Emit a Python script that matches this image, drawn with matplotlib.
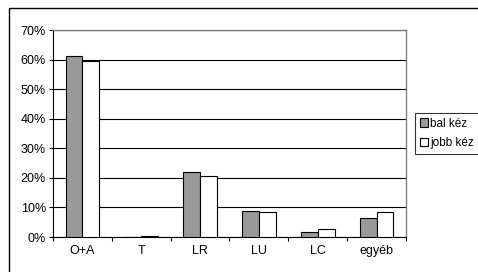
import matplotlib
matplotlib.use("Agg")
import matplotlib.pyplot as plt
from matplotlib.patches import Rectangle
import numpy as np

categories = ["O+A", "T", "LR", "LU", "LC", "egyéb"]
bal_kez = [61.3, 0.0, 21.9, 8.9, 1.6, 6.3]
jobb_kez = [59.4, 0.3, 20.6, 8.5, 2.8, 8.5]
series_names = ["bal kéz", "jobb kéz"]
yticks = [0, 10, 20, 30, 40, 50, 60, 70]

plt.rcParams['font.family'] = ['Liberation Sans', 'DejaVu Sans']
W, H = 478, 272
fig = plt.figure(figsize=(W/100, H/100), dpi=100)
fig.patch.set_facecolor('white')

left, top, right, bottom = 53, 30, 406, 237
ax = fig.add_axes([left/W, 1-bottom/H, (right-left)/W, (bottom-top)/H])

fs = 9
x = np.arange(len(categories))
w = 1/3.5
ax.bar(x - w/2, bal_kez, w, color='#999999', edgecolor='black', linewidth=0.8, label=series_names[0], zorder=3)
ax.bar(x + w/2, jobb_kez, w, color='white', edgecolor='black', linewidth=0.8, label=series_names[1], zorder=3)

ax.set_xlim(-0.5, len(categories)-0.5)
ax.set_ylim(0, 70)
ax.set_yticks(yticks)
ax.set_yticklabels([f"{v}%" for v in yticks], fontsize=fs)
ax.set_xticks(x)
ax.set_xticklabels(categories, fontsize=fs)
ax.tick_params(axis='x', length=0, pad=6)
ax.set_xticks(np.arange(len(categories)+1) - 0.5, minor=True)
ax.tick_params(axis='x', which='minor', length=3, width=0.8, direction='out')
ax.tick_params(axis='y', length=3, width=0.8, direction='out', pad=2)
ax.yaxis.grid(True, color='black', linewidth=0.8, zorder=0)
ax.set_axisbelow(True)
for s in ['top', 'right']:
    ax.spines[s].set_color('#808080')
    ax.spines[s].set_linewidth(1.0)
for s in ['left', 'bottom']:
    ax.spines[s].set_color('black')
    ax.spines[s].set_linewidth(0.8)

leg = fig.legend(loc='upper left', bbox_to_anchor=(415/W, 1-113/H), fontsize=8.5,
                 frameon=True, fancybox=False, edgecolor='black', borderpad=0.4,
                 handlelength=0.7, handleheight=0.7, handletextpad=0.2, labelspacing=0.65,
                 borderaxespad=0)
leg.get_frame().set_linewidth(0.8)

fig.patches.append(Rectangle((9/W, -0.1), 1.2, 1-8/H+0.1, transform=fig.transFigure,
                             fill=False, edgecolor='black', linewidth=1.0))

fig.savefig("out.png", dpi=100)
